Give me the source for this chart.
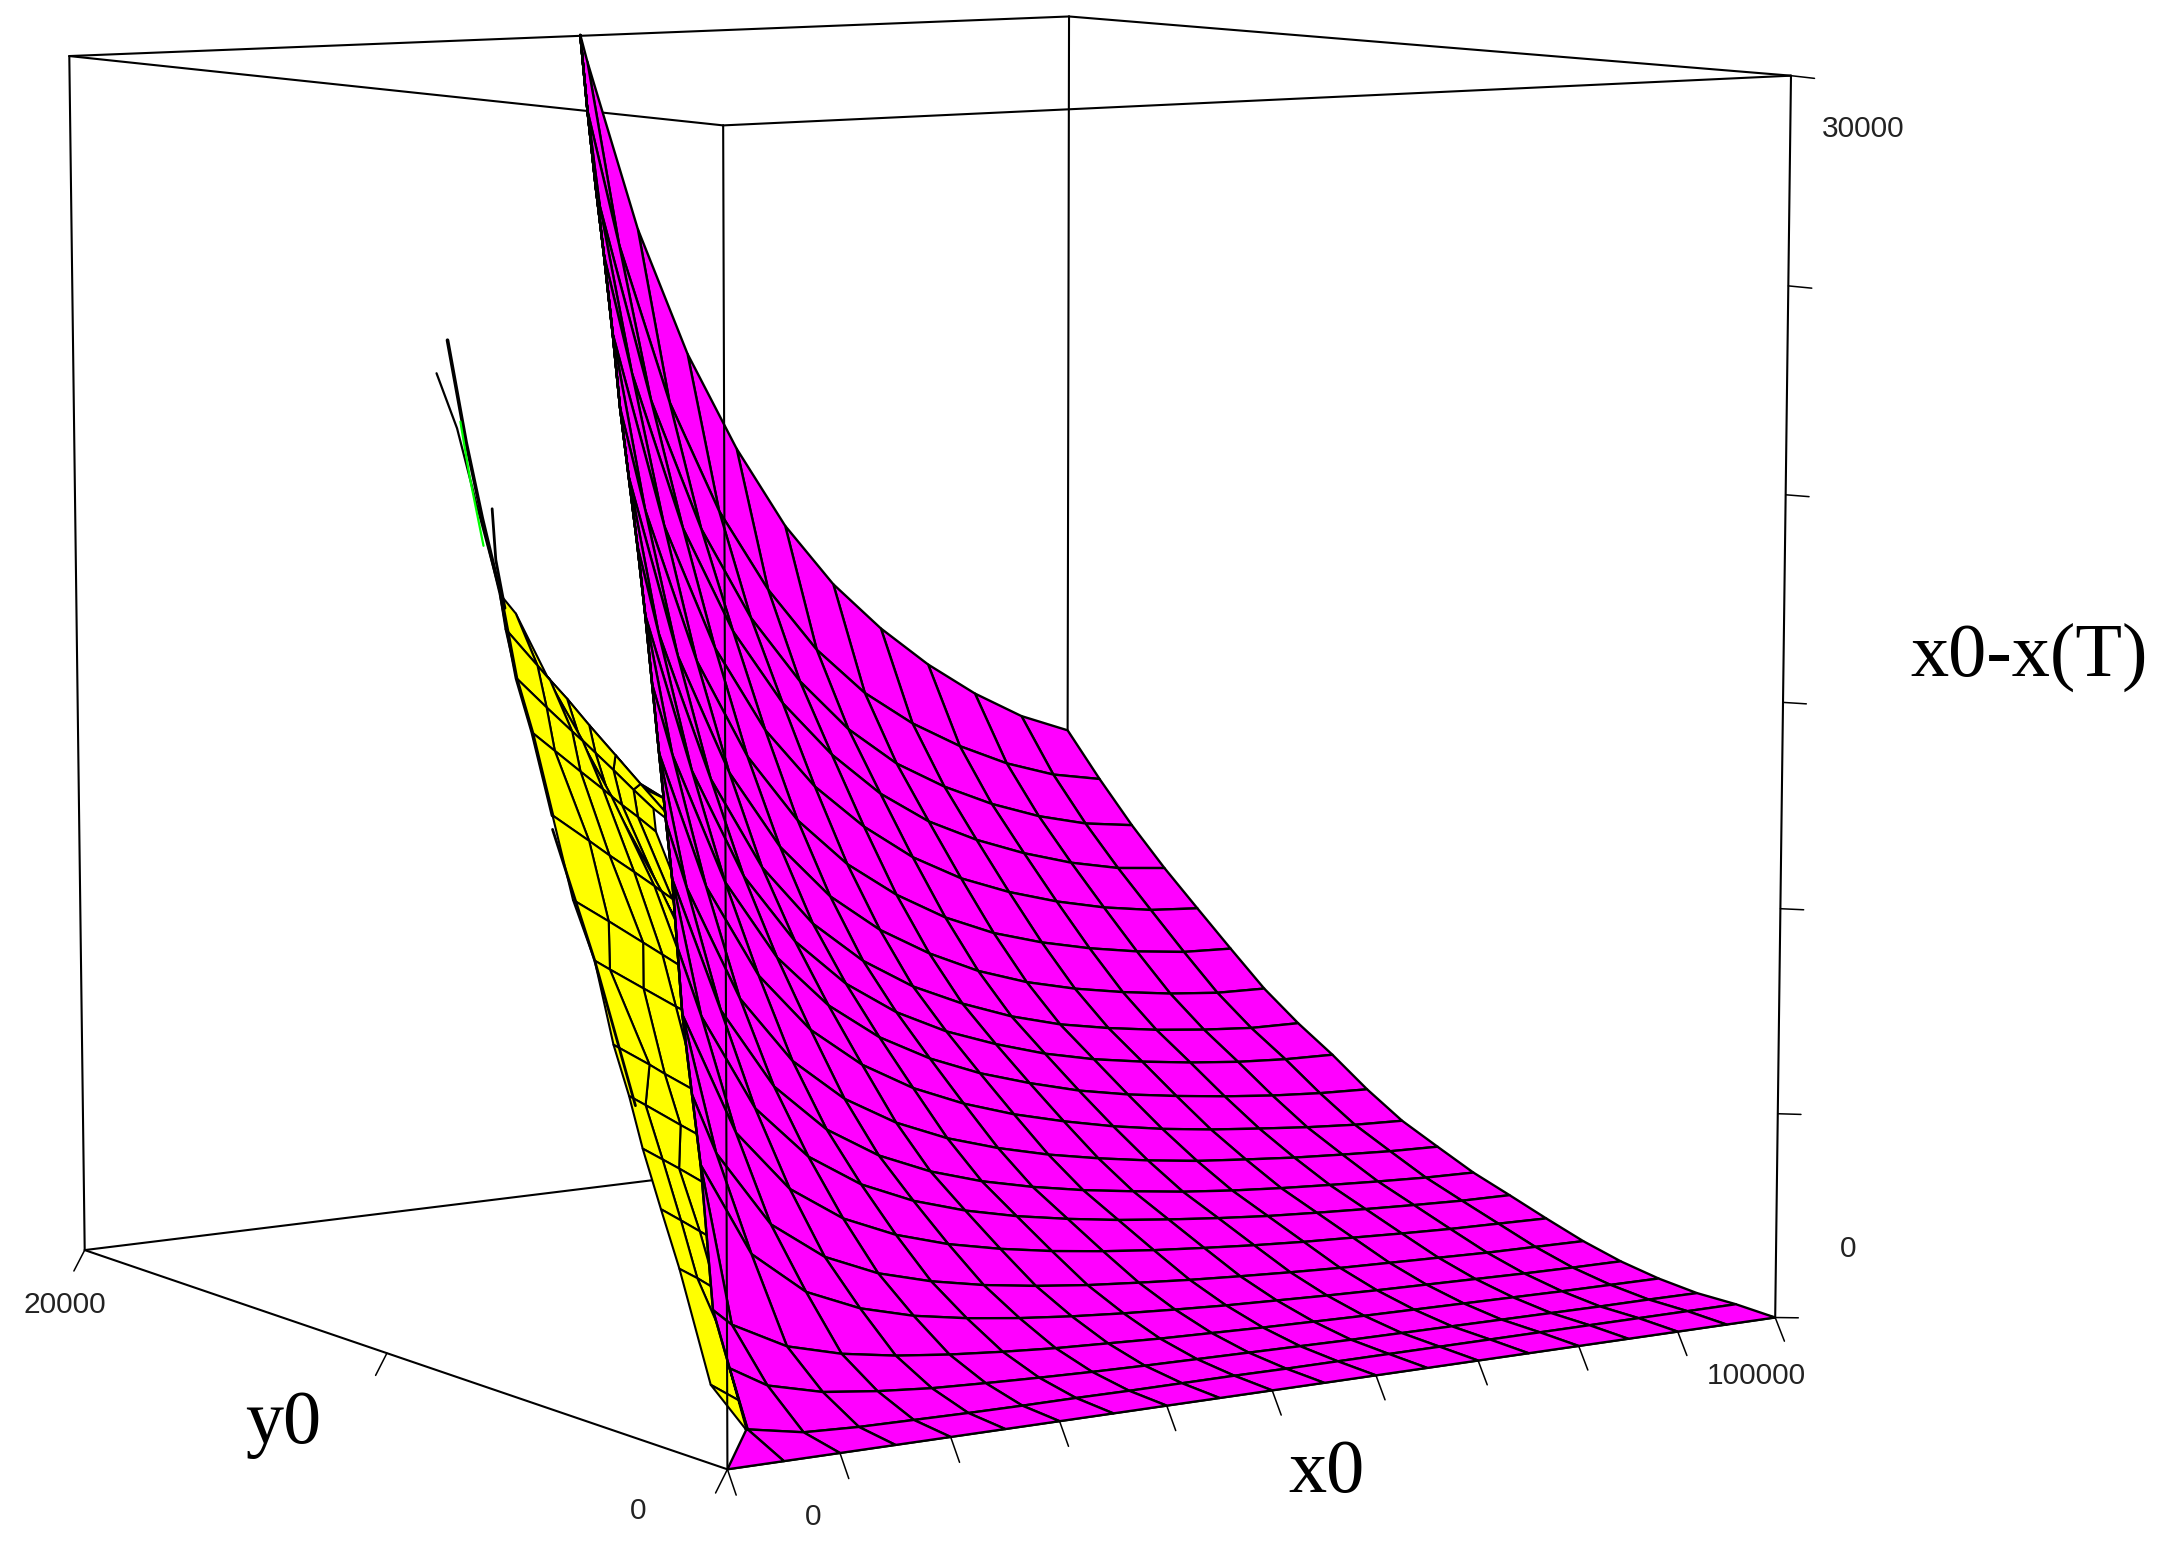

import numpy as np, matplotlib
matplotlib.use('Agg')
import matplotlib.pyplot as plt, seaborn as sns

sns.set_style('white')

# ---------- values ----------
x0_step = 5000.0                     # magenta mesh spacing along x0
y0_levels = np.arange(21) * 1000.0   # magenta mesh rows along y0
# smallest x0 of each magenta row (hundreds)
magenta_x_start = np.array([0,49,66,83,104,128,151,178,205,231,256,281,306,330,353,376,400,423,446,469,493]) * 100.0
# magenta height x0-x(T) (tens), rows = y0, columns = x0
magenta_z = np.array([
[0]*21,
[46,45,20,14,12,10,9,9,8,8,8,7,7,7,7,7,7,7,7,7,7],
[153,153,101,68,52,41,35,30,26,23,21,19,17,15,14,13,12,11,10,10,9],
[256,256,216,148,113,91,76,65,56,50,44,40,36,33,30,28,26,24,22,21,20],
[563,563,563,339,233,177,142,119,102,89,79,71,64,59,54,50,47,44,41,39,38],
[697,697,697,552,368,274,218,182,156,137,122,111,101,93,86,80,76,72,68,66,64],
[857,857,857,857,562,412,325,269,230,202,180,163,149,138,128,120,114,108,103,100,97],
[989,989,989,989,818,582,450,367,311,271,241,218,199,184,171,160,152,145,139,134,132],
[1124,1124,1124,1124,1124,796,597,477,398,343,303,273,249,230,213,200,190,182,175,169,166],
[1234,1234,1234,1234,1234,1072,789,622,514,440,386,346,314,289,268,251,239,228,220,213,209],
[1377,1377,1377,1377,1377,1377,1042,810,662,561,488,434,392,359,331,309,292,279,267,258,253],
[1522,1522,1522,1522,1522,1522,1345,1020,820,687,593,525,473,433,399,374,355,339,326,317,312],
[1669,1669,1669,1669,1669,1669,1669,1277,1002,826,706,620,557,510,471,442,421,404,391,383,380],
[1819,1819,1819,1819,1819,1819,1819,1600,1226,992,837,729,650,592,545,510,486,467,453,443,441],
[1972,1972,1972,1972,1972,1972,1972,1972,1516,1212,1012,873,774,700,641,598,567,544,526,514,511],
[2126,2126,2126,2126,2126,2126,2126,2126,1867,1477,1223,1048,923,831,759,705,667,638,616,601,596],
[2300,2300,2300,2300,2300,2300,2300,2300,2297,1803,1482,1261,1104,988,896,828,779,741,712,692,683],
[2477,2477,2477,2477,2477,2477,2477,2477,2477,2176,1773,1498,1302,1157,1043,958,897,849,811,784,771],
[2638,2638,2638,2638,2638,2638,2638,2638,2638,2588,2087,1747,1507,1331,1194,1092,1019,961,916,884,867],
[2820,2820,2820,2820,2820,2820,2820,2820,2820,2820,2473,2061,1769,1554,1386,1261,1169,1097,1039,997,973],
[3003,3003,3003,3003,3003,3003,3003,3003,3003,3003,2933,2496,2165,1909,1697,1533,1405,1298,1209,1137,1087],
]) * 10.0

yellow_y = np.arange(1, 15) * 1000.0
# yellow mesh x0 (hundreds)
yellow_x = np.array([
[48,48,48,48,48,48,48,48,48],
[49,88,103,121,133,133,133,133,133],
[53,69,86,104,119,143,143,143,143],
[68,86,103,118,151,165,169,169,169],
[83,101,116,148,163,194,197,197,197],
[102,117,149,164,195,225,225,225,225],
[119,152,166,197,227,245,253,253,253],
[133,147,178,208,226,246,263,269,267],
[144,177,209,227,248,266,273,270,281],
[156,190,209,232,251,258,256,268,281],
[168,189,213,234,242,239,252,267,284],
[184,212,236,246,243,258,275,294,313],
[204,234,246,242,262,283,308,332,372],
[229,244,274,299,321,345,365,387,453],
]) * 100.0
# yellow mesh height (tens)
yellow_z = np.array([
[47,47,47,47,47,47,47,47,47],
[121,51,23,-9,-31,-31,-31,-31,-31],
[362,335,303,272,245,202,202,202,202],
[471,439,408,381,324,298,291,291,291],
[584,553,527,469,444,389,383,383,383],
[679,653,596,570,516,463,462,462,462],
[773,716,690,636,583,553,539,539,539],
[948,923,869,817,787,752,723,712,716],
[1070,1010,950,916,876,843,830,834,813],
[1251,1181,1141,1095,1056,1040,1045,1020,993],
[1430,1381,1325,1277,1258,1265,1234,1201,1161],
[1541,1464,1400,1374,1383,1342,1296,1243,1192],
[1641,1545,1506,1519,1457,1387,1307,1230,1103],
[1706,1655,1491,1400,1326,1251,1194,1161,999],
]) * 10.0

# narrow strands that leave the yellow sheet at y0 = 8000 (x0 in hundreds, height in tens)
strand_y = 8000.0
strand1_x = [95,77,63,49,33,19,3];   strand1_z = [1303,1504,1634,1835,2016,2195,2435]
strand2_x = [49,28,11,-7];           strand2_z = [1835,2049,2229,2360]
strand3_x = [53,45,42];              strand3_z = [1801,1916,2036]
strand4_x = [170,133,95];            strand4_z = [590,948,1270]
green_x   = [14,22,34];              green_z   = [2244,2114,1951]

x_ticks = np.arange(0, 100001, 10000)
y_ticks = [0, 10000, 20000]
z_ticks = np.arange(0, 30001, 5000)
x_range, y_range, z_range = 100000.0, 20000.0, 30000.0

# ---------- camera: the box corners of the reference fix the perspective ----------
W, H = 2167, 1553
S = W / 1568
box_unit = np.array([[0,0,0],[1,0,0],[0,1,0],[0,0,1],[1,0,1],[0,1,1],[1,1,1]], float)
box_px = np.array([[525,1063],[1285,953],[62,905],[524,91],[1296,55],[50,40],[773,12]], float) * S
rows = []
for (a, b, c), (u, v) in zip(box_unit, box_px):
    p = [a, b, c, 1]
    rows.append(p + [0]*4 + [-u*t for t in p])
    rows.append([0]*4 + p + [-v*t for t in p])
cam = np.linalg.svd(np.array(rows))[2][-1].reshape(3, 4)
if cam[2] @ np.array([.5, .5, .5, 1]) < 0:
    cam = -cam
cam = np.array([[2/W,0,-1],[0,-2/H,1],[0,0,1]]) @ cam @ np.diag([1/x_range, 1/y_range, 1/z_range, 1])
proj = np.vstack([cam[0], cam[1], [0,0,0,-1], cam[2]])

# ---------- figure ----------
fig = plt.figure(figsize=(W/100, H/100), dpi=100)
ax = fig.add_axes([0, 0, 1, 1], projection='3d', computed_zorder=False)
ax.get_proj = lambda: proj
ax.apply_aspect = lambda position=None: None
ax.set_axis_off()

# box edges behind the surfaces
c = [[0,0,0],[x_range,0,0],[0,y_range,0],[x_range,y_range,0],
     [0,0,z_range],[x_range,0,z_range],[0,y_range,z_range],[x_range,y_range,z_range]]
for a, b in [(0,1),(0,2),(1,3),(2,3),(1,5),(2,6),(3,7),(4,5),(4,6),(5,7),(6,7)]:
    ax.plot(*zip(c[a], c[b]), color='k', lw=1.5, zorder=1)

# yellow sheet and strands
ax.plot_surface(yellow_x, np.repeat(yellow_y[:, None], 9, axis=1), yellow_z,
                rstride=1, cstride=1, color='#ffff00', edgecolor='k', linewidth=1.5, shade=False, zorder=2)
for xs, zs, col, lw in [(strand1_x,strand1_z,'k',2.6),(strand2_x,strand2_z,'k',1.6),
                        (strand3_x,strand3_z,'k',2.0),(strand4_x,strand4_z,'k',2.0),
                        (green_x,green_z,'#00ff00',1.6)]:
    ax.plot(np.array(xs)*100.0, [strand_y]*len(xs), np.array(zs)*10.0, color=col, lw=lw, zorder=2.5)

# magenta sheet
col_x = np.arange(21) * x0_step
X = np.maximum(col_x[None, :], magenta_x_start[:, None])
Y = np.repeat(y0_levels[:, None], 21, axis=1)
ax.plot_surface(X, Y, magenta_z, rstride=1, cstride=1, color='#ff00ff', edgecolor='k',
                linewidth=1.7, shade=False, zorder=3)

# front edge and ticks over everything
ax.plot(*zip(c[0], c[4]), color='k', lw=1.5, zorder=4)
for x in x_ticks:
    ax.plot([x, x], [0, -240], [0, -520], color='k', lw=1.1, zorder=4)
for y in y_ticks:
    ax.plot([0, -1050], [y, y], [0, -500], color='k', lw=1.1, zorder=4)
for z in z_ticks:
    ax.plot([x_range, x_range+2400], [0, 0], [z, z-90], color='k', lw=1.1, zorder=4)

ax.viewLim.intervalx = (-1, 1)
ax.viewLim.intervaly = (-1, 1)

def label(u, v, s, **k):
    fig.text(u*S/W, 1-v*S/H, s, ha='center', va='center', **k)
for u, v, s in [(47,944,'20000'),(462,1093,'0'),(588,1098,'0'),(1271,996,'100000'),(1348,93,'30000'),(1337,904,'0')]:
    label(u, v, s, family='Liberation Sans', fontsize=21.5, color='#222222')
for u, v, s in [(1468,476,'x0-x(T)'),(205,1031,'y0'),(960,1066,'x0')]:
    label(u, v, s, family='Liberation Serif', fontsize=55, color='k')

fig.savefig('out.png', dpi=100)
